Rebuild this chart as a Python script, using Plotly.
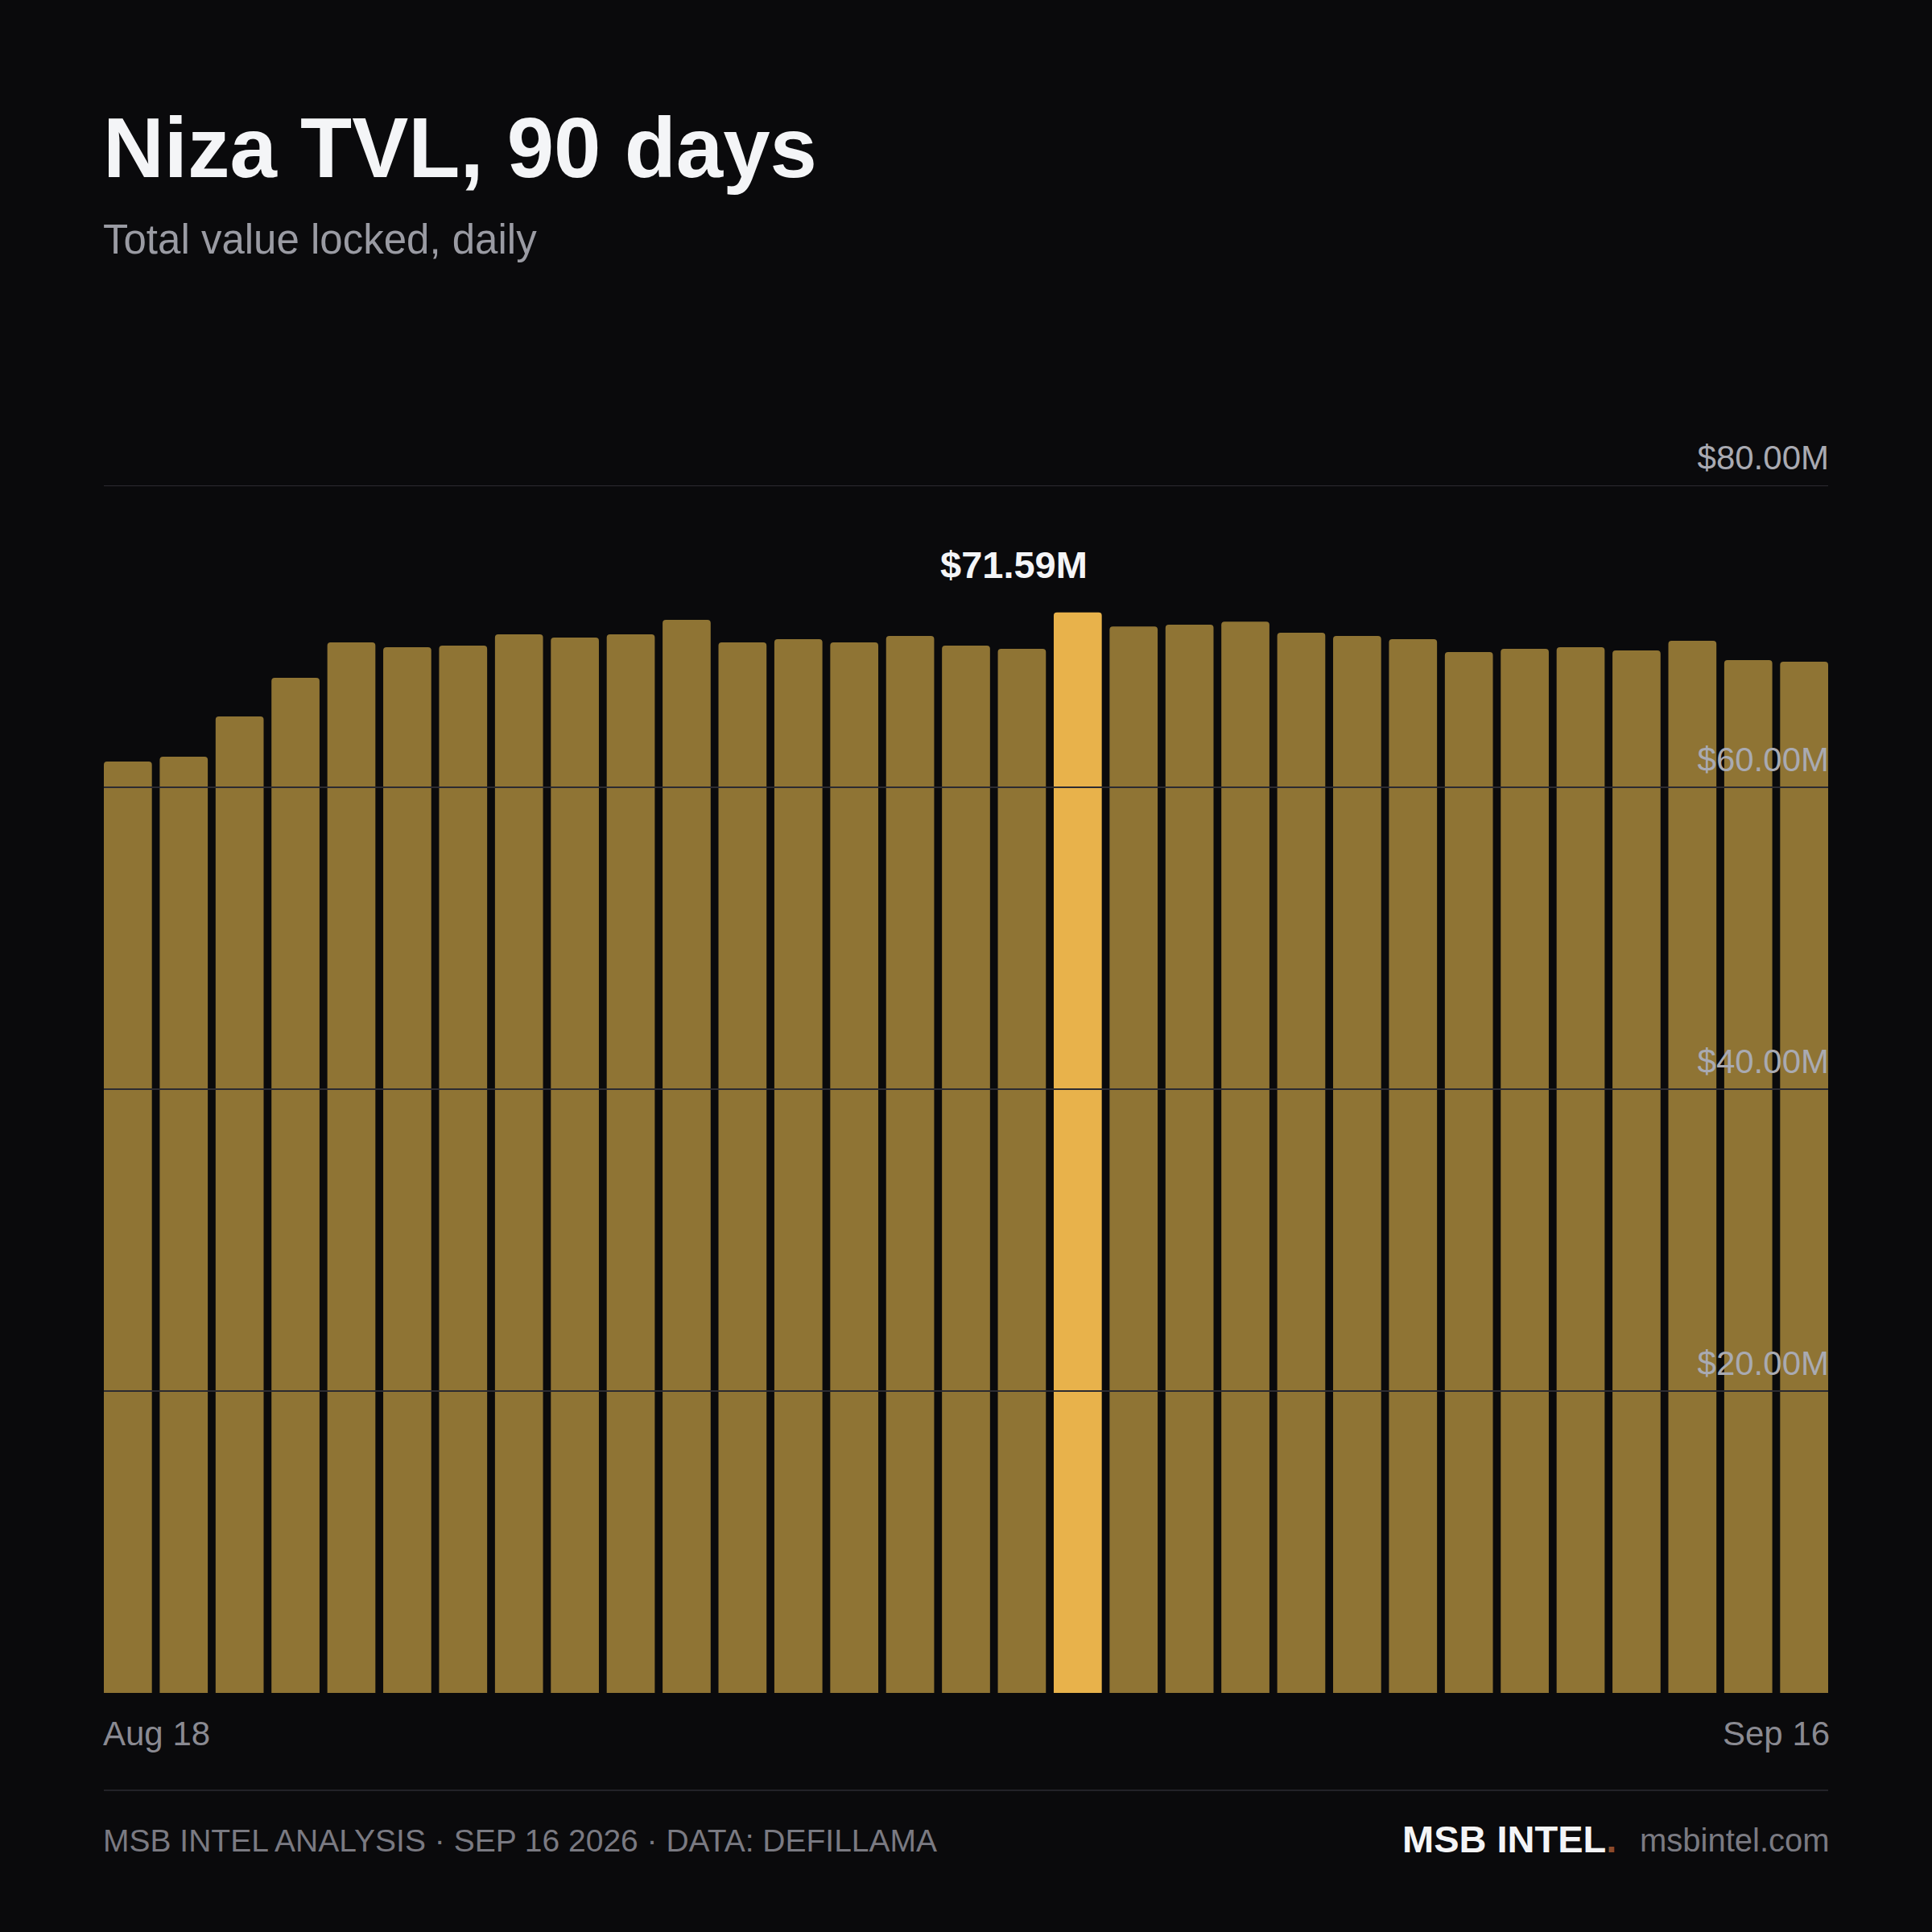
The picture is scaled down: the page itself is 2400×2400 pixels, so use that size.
import pandas as pd
import plotly.graph_objects as go

# daily TVL in $M
days = pd.date_range("2026-08-17", periods=31).strftime("%b %d").tolist()
tvl = [61.71, 62.03, 64.69, 67.25, 69.60, 69.28, 69.39, 70.13, 69.92, 70.13,
       71.09, 69.60, 69.81, 69.60, 70.03, 69.39, 69.17, 71.59, 70.65, 70.77,
       70.97, 70.24, 70.03, 69.81, 68.96, 69.17, 69.28, 69.07, 69.71, 68.43,
       68.32]

tick_vals = [20, 40, 60, 80]
tick_text = ["$20.00M", "$40.00M", "$60.00M", "$80.00M"]
date_labels = ["Aug 18", "Sep 16"]

title = "Niza TVL, 90 days"
subtitle = "Total value locked, daily"
footer = "MSB INTEL ANALYSIS · SEP 16 2026 · DATA: DEFILLAMA"

BG = "#0a0a0c"
BAR = "#8f7434"
HI = "#e8b24b"
FONT = "Liberation Sans, Arial, sans-serif"

W = H = 2400
TOP, BOTTOM = 603, 2103   # plot area in pixels
LEFT, RIGHT = 129, 2271
GAP = 0.14


def py(y):
    # pixel row -> paper coordinate
    return (BOTTOM - y) / (BOTTOM - TOP)


peak = tvl.index(max(tvl))
colors = [HI if i == peak else BAR for i in range(len(tvl))]

fig = go.Figure(go.Bar(x=days, y=tvl, marker=dict(color=colors, cornerradius=4, line=dict(width=0)),
                       hoverinfo="skip"))

fig.update_layout(
    width=W, height=H,
    paper_bgcolor=BG, plot_bgcolor=BG,
    margin=dict(l=LEFT, r=W - RIGHT, t=TOP, b=H - BOTTOM),
    bargap=GAP,
    showlegend=False,
    font=dict(family=FONT),
)
# bars run flush to both ends of the plot area
half = (1 - GAP) / 2
fig.update_xaxes(type="category", range=[-half, len(days) - 1 + half], showgrid=False, zeroline=False,
                 showticklabels=False, ticks="")
fig.update_yaxes(range=[0, 80], tickvals=tick_vals, ticktext=tick_text, side="right",
                 ticklabelposition="inside", ticklabeloverflow="allow", ticklabelshift=-35,
                 ticklabelstandoff=-4, showgrid=False, zeroline=False, ticks="",
                 tickfont=dict(size=42, color="#a9aab2", family=FONT))

# gridlines sit on top of the bars
for v in tick_vals:
    fig.add_shape(type="line", xref="paper", x0=0, x1=1, yref="y", y0=v, y1=v,
                  line=dict(color="#2c2b31", width=2), layer="above")

# footer rule
fig.add_shape(type="line", xref="paper", x0=0, x1=1, yref="paper", y0=py(2224), y1=py(2224),
              line=dict(color="#222228", width=2))

ann = dict(xref="paper", yref="paper", showarrow=False, yanchor="middle")
fig.add_annotation(text="<b>" + title + "</b>", x=0, xanchor="left", xshift=-3, y=py(184),
                   font=dict(size=105, color="#f4f5f7"), **ann)
fig.add_annotation(text=subtitle, x=0, xanchor="left", xshift=-3, y=py(297),
                   font=dict(size=51, color="#9a9ba3"), **ann)
fig.add_annotation(text=date_labels[0], x=0, xanchor="left", xshift=-3, y=py(2153),
                   font=dict(size=42, color="#8a8a92"), **ann)
fig.add_annotation(text=date_labels[1], x=1, xanchor="right", xshift=4, y=py(2153),
                   font=dict(size=42, color="#8a8a92"), **ann)
fig.add_annotation(text=footer, x=0, xanchor="left", xshift=-3, y=py(2286),
                   font=dict(size=39, color="#7a7a82"), **ann)
fig.add_annotation(text="msbintel.com", x=1, xanchor="right", xshift=4, y=py(2286),
                   font=dict(size=40, color="#7a7a82"), **ann)
fig.add_annotation(text="<b>MSB INTEL</b><span style='color:#8c4b2c'><b>.</b></span>",
                   x=1, xanchor="right", xshift=-(RIGHT - 2008) + 2, y=py(2284),
                   font=dict(size=47, color="#f4f5f7"), **ann)

# peak value label
fig.add_annotation(text="<b>$%.2fM</b>" % tvl[peak], x=days[peak], y=tvl[peak], xref="x", yref="y",
                   showarrow=False, yanchor="middle", yshift=59, xshift=-79,
                   font=dict(size=47, color="#f4f5f7"))

fig.write_html("out.html", config={"displayModeBar": False},
               post_script="document.body.style.margin = '0';")
